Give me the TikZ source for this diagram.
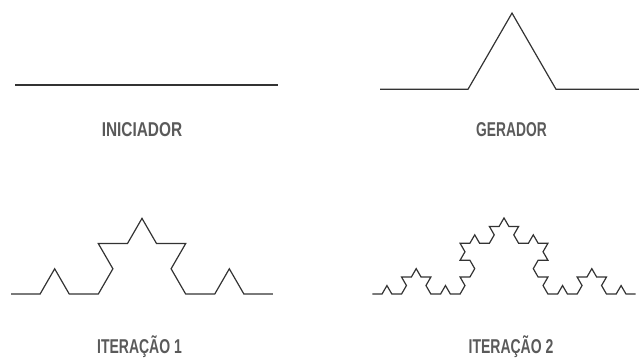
\documentclass[tikz,border=0pt]{standalone}
\usepackage{fontspec}
\setmainfont{Liberation Sans}
\pgfmathdeclarefunction{kturn}{1}{%
  \pgfmathparse{60*(equal(mod(#1,4),1)-equal(mod(#1,4),2))}%
}
\definecolor{linecol}{HTML}{333333}
\definecolor{textcol}{HTML}{5A5A5A}
\tikzset{
  curve/.style={draw=linecol, line width=1.2pt, line join=miter},
  caption/.style={text=textcol, font=\fontsize{20}{20}\selectfont\bfseries, anchor=base, inner sep=0pt},
}
\begin{document}
\begin{tikzpicture}[x=1pt,y=1pt]
\useasboundingbox (0,0) rectangle (639,358);
\clip (0,0) rectangle (639,358);
% initiator
\coordinate (i1) at (15,273);
\coordinate (i2) at (278,273);
\draw[curve] (i1) -- (i2);
\node[caption] (tIni) at (142,221) {\scalebox{0.77}[1]{INICIADOR}};
% generator
\coordinate (g1) at (380,268.7);
\coordinate (g2) at (468,268.7);
\coordinate (g3) at (512,344.9);
\coordinate (g4) at (556,268.7);
\coordinate (g5) at (644,268.7);
\draw[curve] (g1) -- (g2) -- (g3) -- (g4) -- (g5);
\node[caption] (tGer) at (511.5,221) {\scalebox{0.69}[1]{GERADOR}};
% iteration 1 (16 segments)
\coordinate (a1) at (11,64);
\draw[curve] (a1) \foreach \k [evaluate=\k as \ang using {kturn(\k)+kturn(floor(\k/4))}] in {0,...,15} { -- ++(\ang:29.11pt) };
\node[caption] (tIt1) at (139.5,4) {\scalebox{0.70}[1]{ITERAÇÃO 1}};
% iteration 2 (64 segments)
\coordinate (b1) at (372.3,64);
\draw[curve] (b1) \foreach \k [evaluate=\k as \ang using {kturn(\k)+kturn(floor(\k/4))+kturn(floor(\k/16))}] in {0,...,63} { -- ++(\ang:9.756pt) };
\node[caption] (tIt2) at (511,4) {\scalebox{0.70}[1]{ITERAÇÃO 2}};
\end{tikzpicture}
\end{document}
